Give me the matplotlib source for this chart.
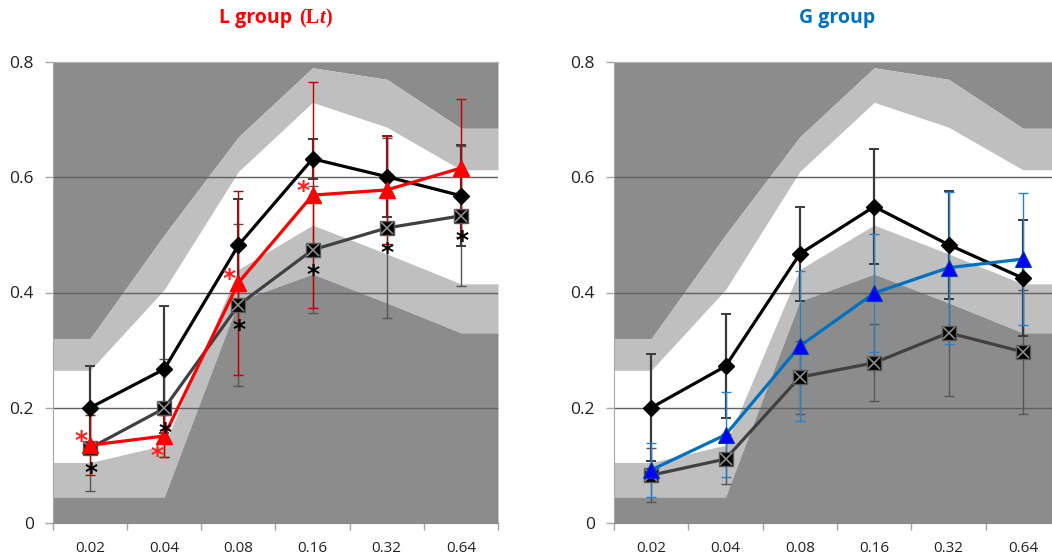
import numpy as np
import matplotlib
matplotlib.use('Agg')
import matplotlib.pyplot as plt
from matplotlib.offsetbox import TextArea, HPacker, AnnotationBbox
from matplotlib.ticker import FixedLocator, NullFormatter

# ---------------- data ----------------
categories = ['0.02', '0.04', '0.08', '0.16', '0.32', '0.64']
y_ticks = [0, 0.2, 0.4, 0.6, 0.8]
y_ticklabels = ['0', '0.2', '0.4', '0.6', '0.8']

# background reference bands (identical in both panels)
band_upper_outer = [0.32, 0.50, 0.67, 0.79, 0.77, 0.685]
band_upper_inner = [0.265, 0.405, 0.61, 0.73, 0.687, 0.613]
band_lower_inner = [0.105, 0.135, 0.44, 0.517, 0.467, 0.415]
band_lower_outer = [0.045, 0.045, 0.385, 0.432, 0.382, 0.33]

# L group
L_black = [0.200, 0.267, 0.482, 0.632, 0.601, 0.568]
L_black_err = [0.072, 0.110, 0.080, 0.035, 0.070, 0.088]
L_square = [0.130, 0.199, 0.378, 0.474, 0.512, 0.533]
L_square_err = [0.075, 0.085, 0.141, 0.110, 0.156, 0.122]
L_red = [0.135, 0.151, 0.417, 0.569, 0.578, 0.616]
L_red_err = [0.052, 0.037, 0.160, 0.196, 0.094, 0.120]
L_red_star = ['above', 'below', 'above', 'above', None, None]
L_black_star = [True, True, True, True, True, True]

# G group
G_black = [0.200, 0.272, 0.467, 0.549, 0.483, 0.425]
G_black_err = [0.093, 0.090, 0.082, 0.100, 0.094, 0.100]
G_square = [0.083, 0.111, 0.253, 0.278, 0.330, 0.297]
G_square_err = [0.047, 0.043, 0.063, 0.067, 0.110, 0.107]
G_blue = [0.092, 0.153, 0.307, 0.399, 0.443, 0.458]
G_blue_err = [0.047, 0.074, 0.130, 0.103, 0.132, 0.114]

# ---------------- style ----------------
DARK = '#8c8c8c'
LIGHT = '#bfbfbf'
SANS = ['Open Sans', 'DejaVu Sans']
SERIF = ['Liberation Serif', 'DejaVu Serif']

fig = plt.figure(figsize=(10.52, 5.58), dpi=100)
W, H = 1052, 558
def axes_rect(x0, x1, ytop, ybot):
    return [x0 / W, (H - ybot) / H, (x1 - x0) / W, (ybot - ytop) / H]

axL = fig.add_axes(axes_rect(53, 498, 62, 523))
axR = fig.add_axes(axes_rect(614, 1060, 62, 523))

xc = np.arange(len(categories))
xb = np.r_[-0.5, xc, len(categories) - 0.5]
def ext(a):
    a = list(a)
    return np.r_[a[0], a, a[-1]]


def setup(ax):
    ax.set_xlim(-0.5, len(categories) - 0.5)
    ax.set_ylim(0, 0.8)
    ax.fill_between(xb, ext(band_upper_outer), 0.8, color=DARK, lw=0, zorder=0.5)
    ax.fill_between(xb, ext(band_upper_inner), ext(band_upper_outer), color=LIGHT, lw=0, zorder=0.5)
    ax.fill_between(xb, ext(band_lower_outer), ext(band_lower_inner), color=LIGHT, lw=0, zorder=0.5)
    ax.fill_between(xb, 0, ext(band_lower_outer), color=DARK, lw=0, zorder=0.5)
    for v in y_ticks[1:-1]:
        ax.axhline(v, color='#5f5f5f', lw=1.0, zorder=1.5)
    ax.set_yticks(y_ticks)
    ax.set_yticklabels(y_ticklabels, fontsize=12.5, family=SANS, color='#222222')
    ax.tick_params(axis='y', direction='out', length=5.8, width=1, color='#a6a6a6', pad=8)
    ax.xaxis.set_major_locator(FixedLocator(xb[[0]].tolist() + list(xc + 0.5)))
    ax.xaxis.set_major_formatter(NullFormatter())
    ax.xaxis.set_minor_locator(FixedLocator(list(xc)))
    ax.set_xticklabels(categories, minor=True, fontsize=11, family=SANS, color='#222222')
    ax.tick_params(axis='x', which='major', direction='out', length=5, width=1, color='#a6a6a6')
    ax.tick_params(axis='x', which='minor', length=0, pad=13)
    ax.spines['right'].set_visible(False)
    ax.spines['left'].set_color('#a6a6a6')
    ax.spines['top'].set_color('#b0b0b0')
    ax.spines['bottom'].set_color('#8a8a8a')


def square_series(ax, y, err):
    ax.errorbar(xc, y, yerr=err, fmt='none', ecolor='#555555', elinewidth=1,
                capsize=3.5, capthick=1, zorder=2)
    ax.plot(xc, y, color='#404040', lw=2.3, zorder=3)
    ax.plot(xc, y, ls='none', marker='s', ms=10.5, mfc='black', mec='#5a5a5a', mew=1, zorder=3.1)
    ax.plot(xc, y, ls='none', marker='x', ms=8, mec='#8c8c8c', mew=1.2, zorder=3.2)


def black_series(ax, y, err):
    ax.errorbar(xc, y, yerr=err, fmt='none', ecolor='#3a3a3a', elinewidth=1.6,
                capsize=3.5, capthick=1.4, zorder=2)
    ax.plot(xc, y, color='black', lw=2.3, marker='D', ms=8.5, mfc='black', mec='black', zorder=3.3)


def star(ax, x, y, dx_pt, dy_pt, color):
    ax.annotate('*', xy=(x, y), xytext=(dx_pt, dy_pt - 5), textcoords='offset points',
                ha='center', va='center', fontsize=18, fontweight='bold',
                family='DejaVu Sans', color=color, zorder=4, annotation_clip=False)


# ---------------- left panel ----------------
setup(axL)
square_series(axL, L_square, L_square_err)
black_series(axL, L_black, L_black_err)
axL.errorbar(xc, L_red, yerr=L_red_err, fmt='none', ecolor='#c00000', elinewidth=1,
             capsize=3.5, capthick=1, zorder=2.1)
axL.plot(xc, L_red, color='#ff0000', lw=2.3, marker='^', ms=12, mfc='#ff0000', mec='#ff0000', zorder=3.5)
for i, s in enumerate(L_black_star):
    if s:
        star(axL, xc[i], L_square[i], 0.5, -13, 'black')
for i, s in enumerate(L_red_star):
    if s == 'above':
        star(axL, xc[i], L_red[i], -6.5, 8, '#ff2020')
    elif s == 'below':
        star(axL, xc[i], L_red[i], -5.5, -9.5, '#ff2020')

# ---------------- right panel ----------------
setup(axR)
square_series(axR, G_square, G_square_err)
black_series(axR, G_black, G_black_err)
axR.errorbar(xc, G_blue, yerr=G_blue_err, fmt='none', ecolor='#2a80c8', elinewidth=1,
             capsize=3.5, capthick=1, zorder=2.1)
axR.plot(xc, G_blue, color='#0070c0', lw=2.3, zorder=3.5)
axR.plot(xc, G_blue, ls='none', marker='^', ms=12, mfc='#0000ff', mec='#0040a0', mew=0.8, zorder=3.6)

# ---------------- titles ----------------
red = '#ff0000'
parts = [TextArea('(L', textprops=dict(color=red, fontsize=14.5, fontweight='bold', family=SERIF)),
         TextArea('t', textprops=dict(color=red, fontsize=14.5, fontweight='bold', style='italic', family=SERIF)),
         TextArea(')', textprops=dict(color=red, fontsize=14.5, fontweight='bold', family=SERIF))]
head = TextArea('L group', textprops=dict(color=red, fontsize=14, fontweight='bold', family=SANS))
box = HPacker(children=[head, HPacker(children=parts, align='baseline', pad=0, sep=0)],
              align='baseline', pad=0, sep=5)
ab = AnnotationBbox(box, (0.5, 1.095), xycoords=axL.transAxes, frameon=False,
                    box_alignment=(0.5, 0.5), annotation_clip=False)
axL.add_artist(ab)

fig.text((614 + 1060) / 2 / W, 1 - 18 / H, 'G group', color='#0070c0', fontsize=14,
         fontweight='bold', family=SANS, ha='center', va='center')

fig.savefig('out.png', dpi=100)
